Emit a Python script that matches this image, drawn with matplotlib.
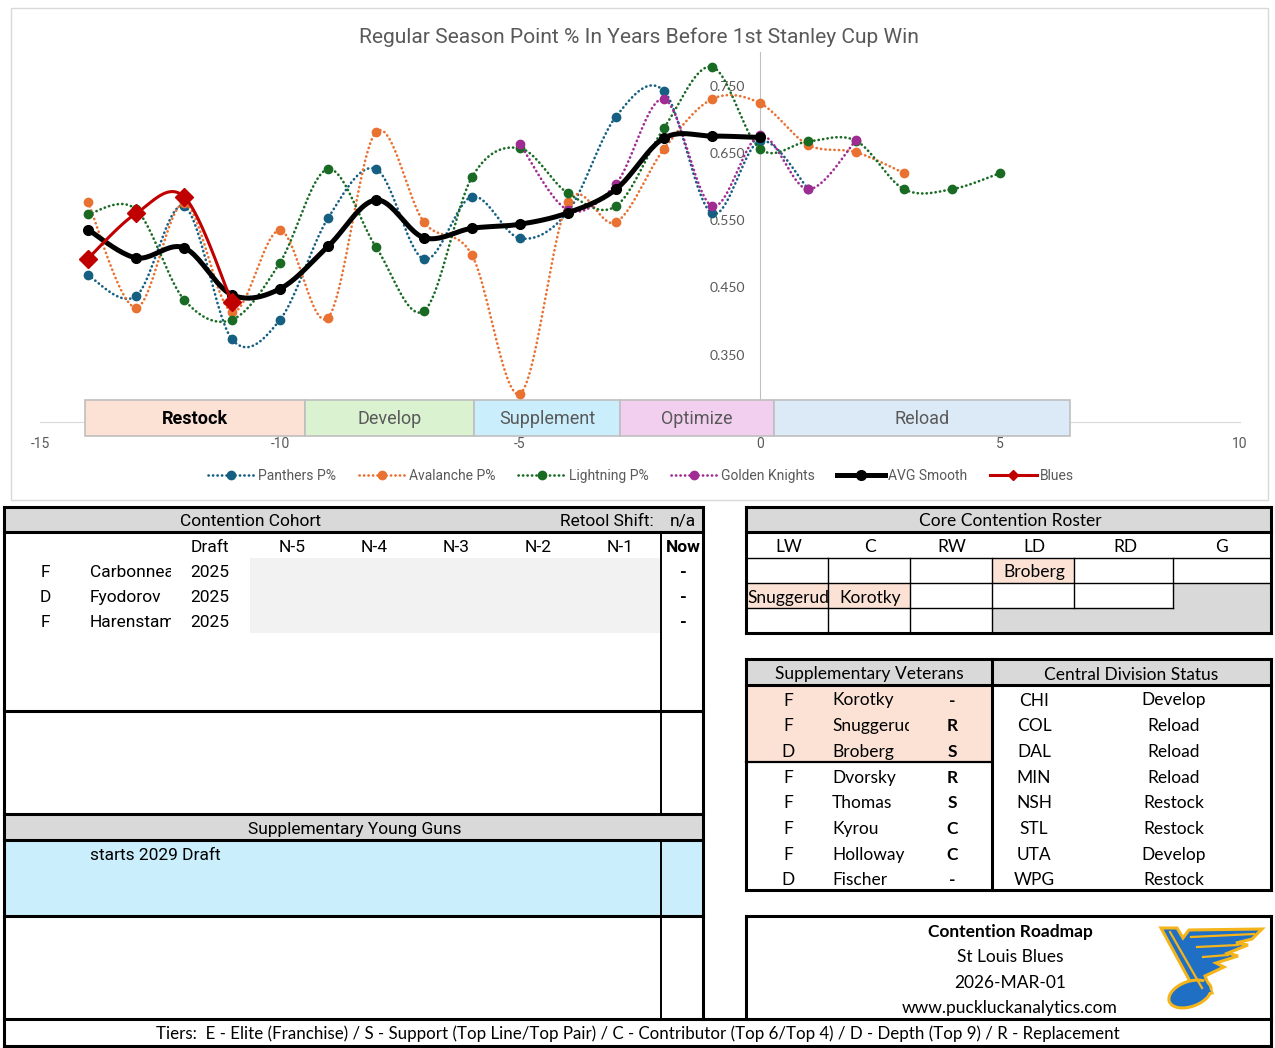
import numpy as np
import matplotlib
matplotlib.use("Agg")
import matplotlib.pyplot as plt
from matplotlib.patches import Rectangle, Polygon, Ellipse
from matplotlib.lines import Line2D

# ---------------- data ----------------
panthers_x = [-14, -13, -12, -11, -10, -9, -8, -7, -6, -5, -4, -3, -2, -1, 0, 1]
panthers_y = [0.468, 0.437, 0.571, 0.373, 0.402, 0.553, 0.626, 0.492, 0.585, 0.523,
              0.563, 0.704, 0.742, 0.560, 0.668, 0.597]
avalanche_x = [-14, -13, -12, -11, -10, -9, -8, -7, -6, -5, -4, -3, -2, -1, 0, 1, 2, 3]
avalanche_y = [0.577, 0.420, 0.575, 0.414, 0.535, 0.405, 0.681, 0.547, 0.498, 0.292,
               0.577, 0.547, 0.656, 0.730, 0.724, 0.662, 0.651, 0.620]
lightning_x = [-14, -13, -12, -11, -10, -9, -8, -7, -6, -5, -4, -3, -2, -1, 0, 1, 2, 3, 4, 5]
lightning_y = [0.559, 0.566, 0.432, 0.402, 0.487, 0.626, 0.510, 0.415, 0.614, 0.657,
               0.590, 0.571, 0.687, 0.778, 0.656, 0.667, 0.668, 0.596, 0.596, 0.620]
knights_x = [-5, -4, -3, -2, -1, 0, 1, 2]
knights_y = [0.663, 0.565, 0.604, 0.730, 0.571, 0.676, 0.596, 0.669]
avg_x = [-14, -13, -12, -11, -10, -9, -8, -7, -6, -5, -4, -3, -2, -1, 0]
avg_y = [0.536, 0.494, 0.509, 0.439, 0.448, 0.511, 0.580, 0.524, 0.538, 0.544,
         0.561, 0.596, 0.672, 0.675, 0.673]
blues_x = [-14, -13, -12, -11]
blues_y = [0.493, 0.560, 0.585, 0.428]

phase_names = ["Restock", "Develop", "Supplement", "Optimize", "Reload"]
phase_starts = [-14.06, -9.48, -5.96, -2.92, 0.29]
phase_widths = [4.58, 3.52, 3.04, 3.21, 6.17]
phase_colors = ["#FBE2D5", "#DAF2D0", "#CAEEFB", "#F2CEEF", "#DCE9F7"]

x_ticks = [-15, -10, -5, 0, 5, 10]
y_ticks = [0.35, 0.45, 0.55, 0.65, 0.75]

cohort_pos = ["F", "D", "F"]
cohort_names = ["Carbonneau", "Fyodorov", "Harenstam"]
cohort_draft = ["2025", "2025", "2025"]
cohort_now = ["-", "-", "-"]
n_cols = ["N-5", "N-4", "N-3", "N-2", "N-1"]

roster_cols = ["LW", "C", "RW", "LD", "RD", "G"]

vet_pos = ["F", "F", "D", "F", "F", "F", "F", "D"]
vet_names = ["Korotky", "Snuggerud", "Broberg", "Dvorsky", "Thomas", "Kyrou", "Holloway", "Fischer"]
vet_tiers = ["-", "R", "S", "R", "S", "C", "C", "-"]

div_teams = ["CHI", "COL", "DAL", "MIN", "NSH", "STL", "UTA", "WPG"]
div_status = ["Develop", "Reload", "Reload", "Reload", "Restock", "Restock", "Develop", "Restock"]

# ---------------- fonts ----------------
NARROW = ["Roboto", "DejaVu Sans"]
NORMAL = ["Lato", "DejaVu Sans"]
GRAY = "#595959"

C_BLUE = "#156082"
C_ORANGE = "#E97132"
C_GREEN = "#196B24"
C_PURPLE = "#A02B93"
C_RED = "#C00000"


def smooth(xs, ys, n=24):
    p = np.column_stack([xs, ys]).astype(float)
    if len(p) < 3:
        return p[:, 0], p[:, 1]
    out = []
    for i in range(len(p) - 1):
        p0 = p[i - 1] if i > 0 else p[i]
        p1 = p[i]
        p2 = p[i + 1]
        p3 = p[i + 2] if i + 2 < len(p) else p[i + 1]
        c1 = p1 + (p2 - p0) / 6.0
        c2 = p2 - (p3 - p1) / 6.0
        t = np.linspace(0, 1, n)[:, None]
        seg = ((1 - t) ** 3) * p1 + 3 * ((1 - t) ** 2) * t * c1 + 3 * (1 - t) * t ** 2 * c2 + t ** 3 * p2
        if i > 0:
            seg = seg[1:]
        out.append(seg)
    out = np.vstack(out)
    return out[:, 0], out[:, 1]


W, H = 1275, 1048
fig = plt.figure(figsize=(W / 100, H / 100), dpi=100)

# overlay axes in pixel coordinates
bg = fig.add_axes([0, 0, 1, 1])
bg.set_xlim(0, W)
bg.set_ylim(H, 0)
bg.axis("off")
bg.set_zorder(0)

# chart frame
bg.add_patch(Rectangle((11, 8), 1257, 492, fill=False, ec="#D9D9D9", lw=1))

# ---------------- chart ----------------
ax = fig.add_axes([40 / W, 1 - 422 / H, 1200 / W, 370 / H])
ax.set_zorder(2)
ax.patch.set_alpha(0)
ax.set_xlim(-15, 10)
ax.set_ylim(0.25, 0.80)
for s in ["top", "right"]:
    ax.spines[s].set_visible(False)
ax.spines["left"].set_position(("data", 0))
ax.spines["left"].set_color("#BFBFBF")
ax.spines["bottom"].set_color("#D9D9D9")
ax.set_xticks(x_ticks)
ax.set_xticklabels([str(v) for v in x_ticks], family=NARROW, fontsize=10, color=GRAY)
ax.set_yticks(y_ticks)
ax.set_yticklabels(["%.3f" % v for v in y_ticks], family=NORMAL, fontsize=10, color=GRAY)
ax.tick_params(axis="both", length=0)
ax.tick_params(axis="x", pad=10.5)
ax.tick_params(axis="y", pad=11)
ax.xaxis.set_zorder(3.5)

bars = ax.barh([0.2559] * len(phase_names), phase_widths, left=phase_starts, height=0.0535,
               color=phase_colors, edgecolor="#BFBFBF", linewidth=1.2, zorder=3)
for b in bars:
    b.set_clip_on(False)
for name, st, w in zip(phase_names, phase_starts, phase_widths):
    bold = name == "Restock"
    ax.text(st + w / 2, 0.2545, name, ha="center", va="center", family=NARROW,
            fontsize=13, color="black" if bold else GRAY,
            fontweight="bold" if bold else "normal", zorder=4, clip_on=False)

dot = (0, (0.1, 1.6))
series = [
    (panthers_x, panthers_y, C_BLUE, "Panthers P%"),
    (avalanche_x, avalanche_y, C_ORANGE, "Avalanche P%"),
    (lightning_x, lightning_y, C_GREEN, "Lightning P%"),
    (knights_x, knights_y, C_PURPLE, "Golden Knights"),
]
handles = []
z = 5
for xs, ys, c, lab in series:
    sx, sy = smooth(xs, ys)
    ax.plot(sx, sy, color=c, lw=1.9, linestyle=dot, dash_capstyle="round", zorder=z, clip_on=False)
    ax.plot(xs, ys, linestyle="none", marker="o", ms=6, color=c, zorder=z + 0.5, clip_on=False)
    handles.append(Line2D([], [], color=c, lw=1.9, linestyle=dot, dash_capstyle="round",
                          marker="o", ms=6, label=lab))
    z += 1

sx, sy = smooth(avg_x, avg_y)
ax.plot(sx, sy, color="black", lw=3.6, solid_capstyle="round", zorder=z)
ax.plot(avg_x, avg_y, linestyle="none", marker="o", ms=7, color="black", zorder=z + 0.5)
handles.append(Line2D([], [], color="black", lw=3.6, marker="o", ms=7, label="AVG Smooth"))
z += 1
sx, sy = smooth(blues_x, blues_y)
ax.plot(sx, sy, color=C_RED, lw=2.2, zorder=z)
ax.plot(blues_x, blues_y, linestyle="none", marker="D", ms=9.5, color=C_RED, zorder=z + 0.5)
handles.append(Line2D([], [], color=C_RED, lw=2.2, marker="D", ms=5, label="Blues"))

fig.text(639 / W, 1 - 37 / H, "Regular Season Point % In Years Before 1st Stanley Cup Win",
         ha="center", va="center", family=NARROW, fontsize=15.1, color=GRAY)

leg = fig.legend(handles=handles, loc="center", bbox_to_anchor=(641 / W, 1 - 476 / H), ncol=6,
                 frameon=False, handlelength=3.4, handletextpad=0.25, columnspacing=1.6,
                 prop={"family": NARROW, "size": 10})
for t in leg.get_texts():
    t.set_color(GRAY)

# ---------------- tables ----------------
THICK = 2.2
THIN = 1.0
HDR = "#D9D9D9"
PEACH = "#FBE2D5"
LBLUE = "#CAEEFB"


def rect(x0, y0, x1, y1, fc, z=1):
    bg.add_patch(Rectangle((x0, y0), x1 - x0, y1 - y0, fc=fc, ec="none", zorder=z))


def hline(y, x0, x1, lw=THICK):
    bg.plot([x0, x1], [y, y], color="black", lw=lw, solid_capstyle="projecting", zorder=5)


def vline(x, y0, y1, lw=THICK):
    bg.plot([x, x], [y0, y1], color="black", lw=lw, solid_capstyle="projecting", zorder=5)


def txt(x, y, s, fam=NARROW, size=12, ha="center", bold=False, clip=None):
    t = bg.text(x, y + 1.5, s, ha=ha, va="center", family=fam, fontsize=size,
                fontweight="bold" if bold else "normal", color="black", zorder=6)
    if clip is not None:
        cp = Rectangle((clip[0], 0), clip[1] - clip[0], H, transform=bg.transData, fc="none", ec="none")
        t.set_clip_on(True)
        t.set_clip_path(cp)
    return t


# Left panel
rect(4, 507, 703, 532, HDR)
rect(250, 558, 660, 633, "#F2F2F2")
rect(4, 814, 703, 840, HDR)
rect(4, 840, 703, 916, LBLUE)
hline(507, 4, 703)
hline(532, 4, 703)
hline(711, 4, 703)
hline(814, 4, 703)
hline(840, 4, 703)
hline(916, 4, 703)
vline(4, 507, 1046)
vline(703, 507, 1019)
vline(661, 532, 814, lw=1.4)
vline(661, 840, 1019, lw=1.4)

txt(250, 520, "Contention Cohort", size=12.5)
txt(607, 520, "Retool Shift:", size=12.5)
txt(683, 520, "n/a", size=12.5)
txt(210, 546, "Draft", size=12.5)
for i, c in enumerate(n_cols):
    txt(292 + 82 * i, 546, c, size=12.5)
txt(683, 546, "Now", bold=True, size=12.5)
for i in range(3):
    y = 571 + 25 * i
    txt(45, y, cohort_pos[i], size=12.5)
    txt(90, y, cohort_names[i], ha="left", clip=(0, 171), size=12.5)
    txt(210, y, cohort_draft[i], size=12.5)
    txt(683, y, cohort_now[i], bold=True, size=12.5)
txt(355, 828, "Supplementary Young Guns", size=12.5)
txt(90, 854, "starts 2029 Draft", ha="left", size=12.5)

# Right panel: core roster
rect(746, 507, 1271, 532, HDR)
rect(992, 558, 1074, 583, PEACH)
rect(746, 583, 828, 608, PEACH)
rect(828, 583, 910, 608, PEACH)
rect(1173, 583, 1271, 633, HDR)
rect(992, 608, 1271, 633, HDR)
hline(507, 746, 1271)
hline(532, 746, 1271)
hline(558, 746, 1271, THIN)
hline(583, 746, 1271, THIN)
hline(608, 746, 1173, THIN)
hline(633, 746, 1271)
vline(746, 507, 633)
vline(1271, 507, 633)
for xv in [828, 910, 992, 1074, 1173]:
    vline(xv, 558, 583, THIN)
for xv in [828, 910, 992, 1074, 1173]:
    vline(xv, 583, 608, THIN)
for xv in [828, 910, 992]:
    vline(xv, 608, 633, THIN)
RS = 12.5
txt(1010, 520, "Core Contention Roster", fam=NORMAL, size=RS)
col_centers = [789, 870, 952, 1034, 1125, 1222]
for c, xc in zip(roster_cols, col_centers):
    txt(xc, 546, c, fam=NORMAL, size=RS)
txt(1034, 571, "Broberg", fam=NORMAL, size=RS)
txt(747, 596, "Snuggerud", fam=NORMAL, ha="left", clip=(746, 828), size=RS)
txt(870, 596, "Korotky", fam=NORMAL, size=RS)

# Veterans and division
rect(746, 659, 1271, 685, HDR)
rect(746, 685, 992, 762, PEACH)
hline(659, 746, 1271)
hline(685, 746, 1271)
hline(762, 746, 992, 1.6)
hline(890, 746, 1271)
vline(746, 659, 890)
vline(992, 659, 890)
vline(1271, 659, 890)
txt(869, 673, "Supplementary Veterans", fam=NORMAL, size=RS)
txt(1131, 673, "Central Division Status", fam=NORMAL, size=RS)
for i in range(8):
    y = 699 + 25.7 * i
    txt(788, y, vet_pos[i], fam=NORMAL, size=RS)
    txt(832, y, vet_names[i], fam=NORMAL, ha="left", clip=(746, 909), size=RS)
    txt(952, y, vet_tiers[i], fam=NORMAL, bold=True, size=RS)
    txt(1034, y, div_teams[i], fam=NORMAL, size=RS)
    txt(1174, y, div_status[i], fam=NORMAL, size=RS)

# Roadmap box
hline(916, 746, 1271)
vline(746, 916, 1019)
vline(1271, 916, 1019)
txt(1010, 931, "Contention Roadmap", fam=NORMAL, bold=True, size=RS)
txt(1010, 956, "St Louis Blues", fam=NORMAL, size=RS)
txt(1010, 981, "2026-MAR-01", fam=NORMAL, size=RS)
txt(1010, 1006, "www.puckluckanalytics.com", fam=NORMAL, size=RS)

# Logo (simplified Blues note)
LB = "#1F6FC5"
LY = "#F4B41A"
wing = [(1161, 928), (1177, 928), (1183, 938), (1189, 930), (1262, 929), (1252, 939),
        (1236, 943), (1248, 945), (1228, 953), (1238, 956), (1216, 963), (1224, 967),
        (1205, 976), (1212, 993), (1198, 996)]
bg.add_patch(Polygon(wing, closed=True, fc=LB, ec=LY, lw=2.2, zorder=7))
bg.add_patch(Ellipse((1190, 994), 44, 25, angle=-20, fc=LB, ec=LY, lw=2.2, zorder=7))
bg.add_patch(Polygon([(1196, 992), (1211, 992), (1205, 980)], closed=True, fc=LB, ec="none", zorder=8))
for (a, b) in [((1191, 937), (1254, 934)), ((1197, 947), (1238, 945)), ((1203, 957), (1228, 955)),
               ((1170, 932), (1202, 988))]:
    bg.plot([a[0], b[0]], [a[1], b[1]], color=LY, lw=1.6, zorder=9)

# Footer
hline(1019, 4, 1271)
hline(1046, 4, 1271)
vline(1271, 1019, 1046)
txt(638, 1032, "Tiers:  E - Elite (Franchise) / S - Support (Top Line/Top Pair) / C - Contributor (Top 6/Top 4) / D - Depth (Top 9) / R - Replacement",
    fam=NORMAL, size=12.2)

fig.savefig("out.png", dpi=100)
